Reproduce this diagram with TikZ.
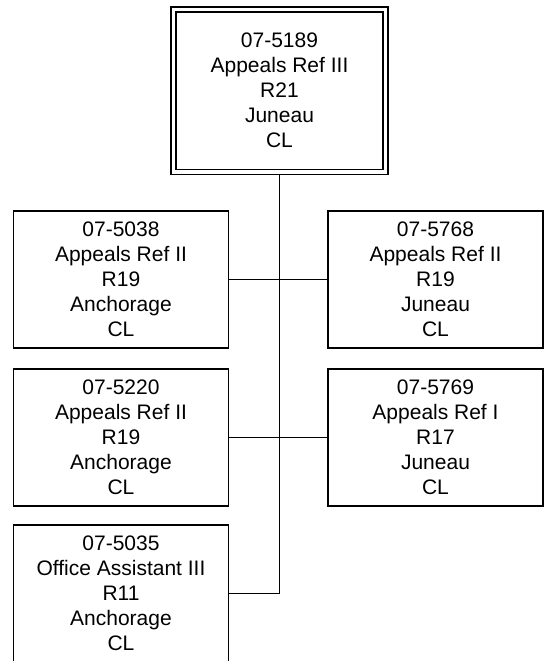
\documentclass[tikz,border=0pt]{standalone}
\usepackage{fontspec}
\setmainfont{Liberation Sans}
\begin{document}
\begin{tikzpicture}[x=1pt,y=-1pt,
  posbox/.style={draw=black, line width=1.3pt, fill=white, inner sep=0pt,
    minimum width=215pt, minimum height=137pt, align=center,
    font=\fontsize{21}{25}\selectfont},
  headbox/.style={draw=black, line width=1.3pt, double=white, double distance=3.5pt,
    fill=white, inner sep=0pt, outer sep=3pt, minimum width=212pt, minimum height=162.5pt,
    align=center, font=\fontsize{21}{25}\selectfont},
  link/.style={draw=black, line width=1pt}]
\useasboundingbox (0,0) rectangle (544,661);
\clip (0,0) rectangle (544,661);
\fill[white] (0,0) rectangle (544,661);
% nodes
\node[headbox] (top) at (279.5,90.75) {07-5189\\Appeals Ref III\\R21\\Juneau\\CL};
\node[posbox] (l1) at (121,279.5) {07-5038\\Appeals Ref II\\R19\\Anchorage\\CL};
\node[posbox] (r1) at (435.5,279.5) {07-5768\\Appeals Ref II\\R19\\Juneau\\CL};
\node[posbox] (l2) at (121,437.5) {07-5220\\Appeals Ref II\\R19\\Anchorage\\CL};
\node[posbox] (r2) at (435.5,437.5) {07-5769\\Appeals Ref I\\R17\\Juneau\\CL};
\node[posbox] (l3) at (121,593.5) {07-5035\\Office Assistant III\\R11\\Anchorage\\CL};
% connectors
\draw[link] (top.south) -- (top.south |- l3.east) -- (l3.east);
\draw[link] (l1.east) -- (r1.west);
\draw[link] (l2.east) -- (r2.west);
\end{tikzpicture}
\end{document}
